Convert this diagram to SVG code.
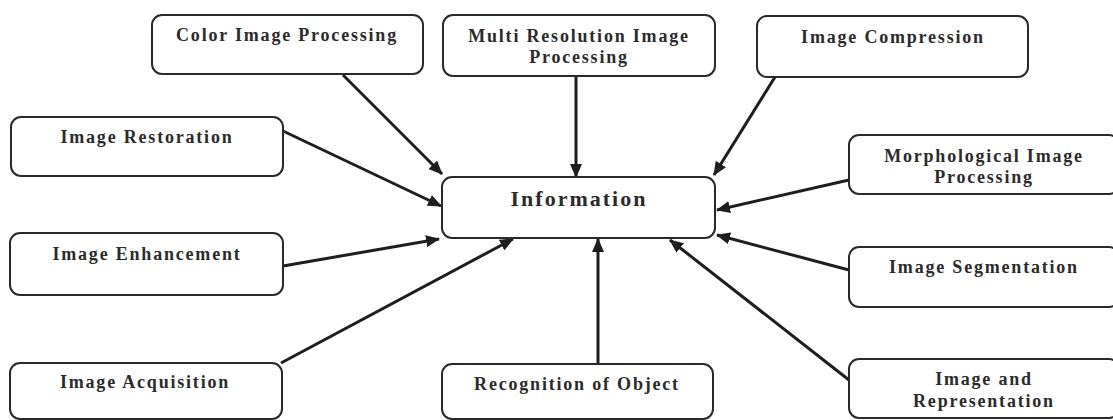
<svg xmlns="http://www.w3.org/2000/svg" width="1113" height="420" viewBox="0 0 1113 420">
<style>
.box{fill:#fff;stroke:#2a2a2a;stroke-width:2}
.t{font-family:"Liberation Serif","Times New Roman",serif;font-weight:bold;font-size:18px;letter-spacing:1.8px;fill:#2b2b2b;text-anchor:middle}
.big{font-size:22px;letter-spacing:2px}
.c{stroke:#1e1e1e;stroke-width:3;fill:none;marker-end:url(#ah)}
</style>
<defs>
<marker id="ah" markerUnits="userSpaceOnUse" markerWidth="14" markerHeight="12" refX="13" refY="6" orient="auto">
<path d="M0,0 L14,6 L0,12 z" fill="#1e1e1e"/>
</marker>
</defs>
<rect width="1113" height="420" fill="#fff"/>
<g id="connectors">
<line class="c" x1="343" y1="75" x2="442" y2="174"/>
<line class="c" x1="283" y1="131" x2="441" y2="206"/>
<line class="c" x1="283" y1="266" x2="439" y2="239"/>
<line class="c" x1="281" y1="363" x2="513" y2="239"/>
<line class="c" x1="576" y1="76" x2="576" y2="177"/>
<line class="c" x1="775" y1="77" x2="714" y2="175"/>
<line class="c" x1="849" y1="180" x2="717" y2="210"/>
<line class="c" x1="849" y1="270" x2="717" y2="235"/>
<line class="c" x1="849" y1="380" x2="670" y2="240"/>
<line class="c" x1="598" y1="364" x2="598" y2="239"/>
</g>
<g id="color">
<rect class="box" x="152" y="15" width="271" height="59" rx="10"/>
<text class="t" x="287" y="41">Color Image Processing</text>
</g>
<g id="multires">
<rect class="box" x="443" y="15" width="272" height="61" rx="10"/>
<text class="t" x="579" y="42">Multi Resolution Image</text>
<text class="t" x="579" y="63">Processing</text>
</g>
<g id="compression">
<rect class="box" x="757" y="16" width="271" height="61" rx="10"/>
<text class="t" x="893" y="43">Image Compression</text>
</g>
<g id="restoration">
<rect class="box" x="11" y="117" width="272" height="59" rx="10"/>
<text class="t" x="147" y="143">Image Restoration</text>
</g>
<g id="morph">
<rect class="box" x="849" y="135" width="270" height="59" rx="10"/>
<text class="t" x="984" y="162">Morphological Image</text>
<text class="t" x="984" y="183">Processing</text>
</g>
<g id="information">
<rect class="box" x="442" y="177" width="273" height="61" rx="10"/>
<text class="t big" x="579" y="206">Information</text>
</g>
<g id="enhancement">
<rect class="box" x="10" y="233" width="273" height="62" rx="10"/>
<text class="t" x="147" y="260">Image Enhancement</text>
</g>
<g id="segmentation">
<rect class="box" x="849" y="247" width="270" height="60" rx="10"/>
<text class="t" x="984" y="273">Image Segmentation</text>
</g>
<g id="acquisition">
<rect class="box" x="10" y="363" width="272" height="56" rx="10"/>
<text class="t" x="145" y="388">Image Acquisition</text>
</g>
<g id="recognition">
<rect class="box" x="442" y="364" width="271" height="55" rx="10"/>
<text class="t" x="577" y="390">Recognition of Object</text>
</g>
<g id="representation">
<rect class="box" x="849" y="359" width="270" height="59" rx="10"/>
<text class="t" x="984" y="385">Image and</text>
<text class="t" x="984" y="407">Representation</text>
</g>
</svg>
